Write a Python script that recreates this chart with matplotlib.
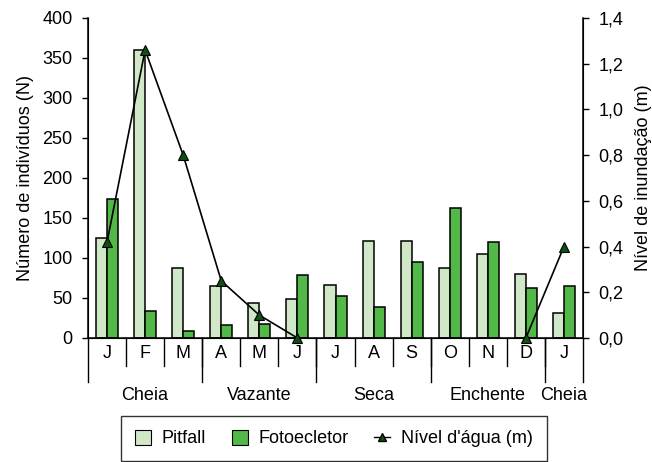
import numpy as np
import matplotlib
matplotlib.use("Agg")
import matplotlib.pyplot as plt
from matplotlib.lines import Line2D
from matplotlib.patches import Patch
import matplotlib.transforms as mtransforms

plt.rcParams['font.family'] = ['Liberation Sans', 'DejaVu Sans']

months = ['J', 'F', 'M', 'A', 'M', 'J', 'J', 'A', 'S', 'O', 'N', 'D', 'J']
pitfall = [125, 360, 88, 65, 44, 49, 66, 121, 121, 88, 105, 80, 31]
fotoecletor = [174, 34, 9, 16, 18, 79, 52, 39, 95, 163, 120, 63, 65]
nivel = [0.42, 1.26, 0.80, 0.25, 0.10, 0.0, np.nan, np.nan, np.nan, np.nan, np.nan, 0.0, 0.40]
seasons = ['Cheia', 'Vazante', 'Seca', 'Enchente', 'Cheia']
season_bounds = [(0, 2), (3, 5), (6, 8), (9, 11), (12, 12)]

c_pit = '#d0e8c8'
c_foto = '#52b848'
c_mark = '#0f4f14'
fs = 13

fig = plt.figure(figsize=(6.52, 4.62), dpi=100)
ax = fig.add_axes([88/652, 1-338/462, (583-88)/652, 320/462])
ax2 = ax.twinx()

x = np.arange(len(months))
w = 0.29
ax.bar(x - w/2, pitfall, w, color=c_pit, edgecolor='black', linewidth=1.1, zorder=2)
ax.bar(x + w/2, fotoecletor, w, color=c_foto, edgecolor='black', linewidth=1.1, zorder=2)

ax2.plot(x, nivel, color='black', linewidth=1.2, marker='^', markersize=7,
         markerfacecolor=c_mark, markeredgecolor='black', markeredgewidth=0.8,
         clip_on=False, zorder=5)

ax.set_xlim(-0.5, len(months) - 0.5)
ax.set_ylim(0, 400)
ax.set_yticks(np.arange(0, 401, 50))
ax2.set_ylim(0, 1.4)
ax2.set_yticks(np.arange(0, 1.41, 0.2))
ax2.set_yticklabels([('%.1f' % v).replace('.', ',') for v in np.arange(0, 1.41, 0.2)])

for a in (ax, ax2):
    a.spines['top'].set_visible(False)
    a.tick_params(labelsize=fs, length=4.5, width=1, direction='out', pad=6.5)
ax.spines['left'].set_linewidth(1.1)
ax2.spines['right'].set_linewidth(1.1)
ax.spines['bottom'].set_linewidth(1.1)
ax.set_xticks([])

ax.set_ylabel('Número de indivíduos (N)', fontsize=fs, labelpad=6)
ax2.set_ylabel('Nível de inundação (m)', fontsize=fs, labelpad=8)

trans = mtransforms.blended_transform_factory(ax.transData, ax.transAxes)
h_month = 28/320
h_season = 44/320
for i, m in enumerate(months):
    ax.text(i, -15/320, m, transform=trans, ha='center', va='center', fontsize=fs)
for i in range(1, len(months)):
    ax.plot([i - 0.5, i - 0.5], [0, -h_month], transform=trans, color='black',
            linewidth=1, clip_on=False)
bounds = [-0.5] + [b[1] + 0.5 for b in season_bounds]
for b in bounds:
    ax.plot([b, b], [0, -h_season], transform=trans, color='black',
            linewidth=1, clip_on=False)
for (s0, s1), name in zip(season_bounds, seasons):
    ax.text((s0 + s1) / 2, -58/320, name, transform=trans, ha='center',
            va='center', fontsize=fs)

handles = [Patch(facecolor=c_pit, edgecolor='black', linewidth=0.8, label='Pitfall'),
           Patch(facecolor=c_foto, edgecolor='black', linewidth=0.8, label='Fotoecletor'),
           Line2D([0], [0], color='black', linewidth=1, marker='^', markersize=6,
                  markerfacecolor=c_mark, markeredgecolor='black', label="Nível d'água (m)")]
leg = fig.legend(handles=handles, loc='center', bbox_to_anchor=(334/652, 1-438.5/462),
                 ncol=3, fontsize=fs, frameon=True, fancybox=False, edgecolor='black',
                 handlelength=0.9, handleheight=0.9, columnspacing=1.4, handletextpad=0.6,
                 borderpad=0.75, borderaxespad=0)
leg.get_frame().set_linewidth(1)

fig.savefig('out.png', dpi=100)
